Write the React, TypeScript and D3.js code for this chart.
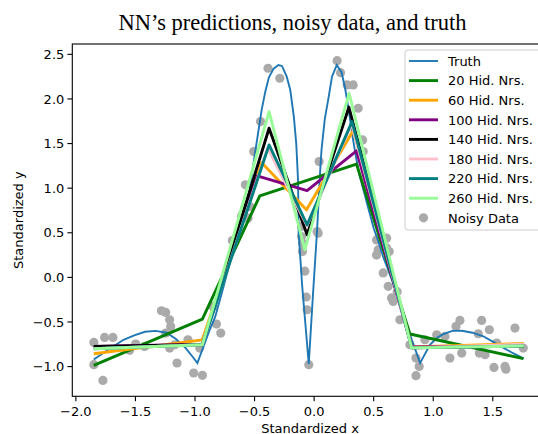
import React from "react";
import * as d3 from "d3";

const width = 538;
const height = 434;

// noisy observations (standardized x, y)
const noisyData: [number, number][] = [
  [-1.849, -0.729], [-1.849, -0.979], [-1.773, -1.155], [-1.759, -0.673], [-1.689, -0.673],
  [-1.549, -0.818], [-1.498, -0.747], [-1.423, -0.774], [-1.282, -0.374], [-1.246, -0.393],
  [-1.213, -0.475], [-1.204, -0.55], [-1.246, -0.624], [-1.213, -0.792], [-1.171, -0.755],
  [-1.151, -0.96], [-1.059, -0.699], [-1.011, -1.072], [-0.938, -1.098], [-0.96, -0.792],
  [-0.82, -0.523], [-0.784, -0.624], [-0.849, -0.326], [-0.686, 0.413],
  [-0.61, 0.682], [-0.582, 0.776], [-0.597, 0.72], [-0.54, 0.794], [-0.555, 0.664],
  [-0.577, 1.037], [-0.507, 1.41], [-0.45, 1.746], [-0.387, 2.344], [-0.288, 2.232],
  [-0.106, 0.57], [-0.106, 0.458], [-0.098, 0.384], [-0.098, 0.29], [-0.078, 0.07],
  [-0.066, -0.22], [-0.059, -0.363], [-0.045, -0.979], [0.025, 0.514], [0.034, 0.496],
  [0.042, 1.298],
  [0.193, 2.429], [0.222, 2.295], [0.277, 2.157], [0.328, 2.157], [0.37, 1.896],
  [0.407, 1.541], [0.412, 1.41],
  [0.608, 0.44], [0.524, 0.42], [0.538, 0.31], [0.608, 0.33], [0.63, 0.29], [0.524, 0.25],
  [0.58, 0.05], [0.622, -0.1], [0.697, -0.16], [0.65, -0.23], [0.664, -0.27], [0.72, -0.475],
  [0.804, -0.755], [0.855, -0.904], [0.882, -0.998], [0.855, -1.102], [0.93, -0.699],
  [1.029, -0.643], [1.098, -0.662], [1.14, -0.904], [1.191, -0.55], [1.224, -0.483],
  [1.239, -0.848], [1.378, -0.632], [1.406, -0.483], [1.387, -0.848], [1.471, -0.587],
  [1.435, -0.867], [1.533, -0.736], [1.51, -1.009], [1.602, -0.998], [1.61, -1.03],
  [1.686, -0.568], [1.756, -0.792],
];

// true function
const truth: [number, number][] = [
  [-1.85, -0.92], [-1.76, -0.84], [-1.68, -0.77], [-1.6, -0.7], [-1.51, -0.65],
  [-1.42, -0.61], [-1.33, -0.6], [-1.24, -0.62], [-1.16, -0.69], [-1.08, -0.79],
  [-1.02, -0.89], [-0.98, -0.96], [-0.93, -0.78], [-0.88, -0.6], [-0.83, -0.44],
  [-0.78, -0.2], [-0.74, 0.0], [-0.7, 0.2], [-0.66, 0.36], [-0.62, 0.54],
  [-0.58, 0.76], [-0.54, 0.98], [-0.5, 1.36], [-0.47, 1.62], [-0.44, 1.88],
  [-0.41, 2.08], [-0.38, 2.24], [-0.34, 2.34], [-0.3, 2.38], [-0.27, 2.37],
  [-0.23, 2.25], [-0.2, 2.1], [-0.17, 1.8], [-0.15, 1.5], [-0.135, 1.09],
  [-0.13, 0.5], [-0.1, -0.1], [-0.045, -0.97], [-0.01, -0.2], [0.025, 0.53],
  [0.048, 1.13], [0.062, 1.43], [0.09, 1.78], [0.118, 1.99], [0.15, 2.25],
  [0.19, 2.38], [0.23, 2.3], [0.26, 2.12], [0.29, 1.88], [0.32, 1.6],
  [0.35, 1.36], [0.38, 1.15], [0.42, 0.95], [0.46, 0.75], [0.5, 0.55],
  [0.54, 0.4], [0.58, 0.23], [0.64, 0.02], [0.7, -0.2], [0.76, -0.45],
  [0.82, -0.7], [0.89, -0.96], [0.93, -0.86], [0.97, -0.76], [1.03, -0.68],
  [1.08, -0.64], [1.16, -0.6], [1.24, -0.598], [1.33, -0.62], [1.42, -0.66],
  [1.5, -0.72], [1.59, -0.79], [1.67, -0.85], [1.76, -0.91],
];

// network predictions (piecewise linear)
const nn20: [number, number][] = [[-1.85, -0.987], [-0.938, -0.467], [-0.456, 0.914], [0.356, 1.27], [0.804, -0.635], [1.756, -0.91]];
const nn60: [number, number][] = [[-1.85, -0.856], [-0.938, -0.7], [-0.442, 1.287], [-0.064, 0.757], [0.33, 1.65], [0.82, -0.78], [1.76, -0.74]];
const nn100: [number, number][] = [[-1.85, -0.774], [-0.938, -0.75], [-0.478, 1.138], [-0.059, 0.973], [0.356, 1.418], [0.82, -0.78], [1.76, -0.77]];
const nn140: [number, number][] = [[-1.85, -0.774], [-0.938, -0.755], [-0.378, 1.672], [-0.059, 0.477], [0.292, 1.907], [0.82, -0.79], [1.76, -0.77]];
const nn180: [number, number][] = [[-1.85, -0.8], [-0.938, -0.755], [-0.39, 1.45], [-0.06, 0.58], [0.315, 1.72], [0.82, -0.79], [1.76, -0.75]];
const nn220: [number, number][] = [[-1.85, -0.8], [-0.938, -0.755], [-0.378, 1.485], [-0.059, 0.589], [0.318, 1.746], [0.82, -0.79], [1.76, -0.77]];
const nn260: [number, number][] = [[-1.85, -0.8], [-0.938, -0.755], [-0.378, 1.858], [-0.078, 0.31], [0.294, 2.064], [0.818, -0.79], [1.76, -0.77]];

const nnSeries = [nn20, nn60, nn100, nn140, nn180, nn220, nn260];
const nnLabels = ["20 Hid. Nrs.", "60 Hid. Nrs.", "100 Hid. Nrs.", "140 Hid. Nrs.", "180 Hid. Nrs.", "220 Hid. Nrs.", "260 Hid. Nrs."];
const nnColors = ["green", "orange", "purple", "black", "pink", "teal", "palegreen"];

const xTicks = [-2.0, -1.5, -1.0, -0.5, 0.0, 0.5, 1.0, 1.5];
const yTicks = [-1.0, -0.5, 0.0, 0.5, 1.0, 1.5, 2.0, 2.5];

const truthColor = "#1f77b4";
const dotColor = "#aaaaaa";
const font = "'DejaVu Sans', sans-serif";

const plotLeft = 72.3;
const plotRight = 547.6;
const plotTop = 44;
const plotBottom = 396.3;

const x = d3.scaleLinear().domain([-2.03, 1.96]).range([plotLeft, plotRight]);
const y = d3.scaleLinear().domain([-1.333, 2.616]).range([plotBottom, plotTop]);

const line = d3
  .line<[number, number]>()
  .x((d) => x(d[0]))
  .y((d) => y(d[1]));

const fmt = (v: number) => d3.format(".1f")(v).replace("-", "\u2212");

export default function App() {
  const legendItems = ["Truth", ...nnLabels, "Noisy Data"];
  const legendColors = [truthColor, ...nnColors];
  return (
    <svg
      width={width}
      height={height}
      style={{ position: "absolute", left: 0, top: 0, background: "white" }}
    >
      <text
        x={292.5}
        y={30}
        textAnchor="middle"
        fontFamily="'Liberation Serif', 'Times New Roman', serif"
        fontSize={22.5}
      >
        NN’s predictions, noisy data, and truth
      </text>

      {/* noisy points */}
      {noisyData.map((d, i) => (
        <circle key={i} cx={x(d[0])} cy={y(d[1])} r={4.6} fill={dotColor} />
      ))}

      {/* truth */}
      <path d={line(truth) ?? ""} fill="none" stroke={truthColor} strokeWidth={1.9} />

      {/* predictions */}
      {nnSeries.map((s, i) => (
        <path
          key={i}
          d={line(s) ?? ""}
          fill="none"
          stroke={nnColors[i]}
          strokeWidth={2.9}
          strokeLinejoin="round"
        />
      ))}

      {/* spines */}
      <rect
        x={plotLeft}
        y={plotTop}
        width={plotRight - plotLeft}
        height={plotBottom - plotTop}
        fill="none"
        stroke="black"
        strokeWidth={1.1}
      />

      {/* x axis */}
      {xTicks.map((t) => (
        <g key={t}>
          <line x1={x(t)} x2={x(t)} y1={plotBottom} y2={plotBottom + 4.9} stroke="black" strokeWidth={1.1} />
          <text x={x(t)} y={plotBottom + 20} textAnchor="middle" fontFamily={font} fontSize={13}>
            {fmt(t)}
          </text>
        </g>
      ))}
      <text x={310} y={432.5} textAnchor="middle" fontFamily={font} fontSize={13}>
        Standardized x
      </text>

      {/* y axis */}
      {yTicks.map((t) => (
        <g key={t}>
          <line x1={plotLeft - 4.9} x2={plotLeft} y1={y(t)} y2={y(t)} stroke="black" strokeWidth={1.1} />
          <text x={plotLeft - 8} y={y(t) + 4.7} textAnchor="end" fontFamily={font} fontSize={13}>
            {fmt(t)}
          </text>
        </g>
      ))}
      <text
        transform={`translate(23,${(plotTop + plotBottom) / 2}) rotate(-90)`}
        textAnchor="middle"
        fontFamily={font}
        fontSize={13}
      >
        Standardized y
      </text>

      {/* legend */}
      <g>
        <rect x={405} y={50} width={140} height={180} rx={3} fill="white" fillOpacity={0.8} stroke="#cccccc" strokeWidth={1} />
        {legendItems.map((label, i) => {
          const cy = 61 + 19.6 * i;
          return (
            <g key={label}>
              {i < legendItems.length - 1 ? (
                <line
                  x1={409}
                  x2={438}
                  y1={cy}
                  y2={cy}
                  stroke={legendColors[i]}
                  strokeWidth={i === 0 ? 1.9 : 2.9}
                />
              ) : (
                <circle cx={423.5} cy={cy} r={4.6} fill={dotColor} />
              )}
              <text x={448} y={cy + 4.7} fontFamily={font} fontSize={13}>
                {label}
              </text>
            </g>
          );
        })}
      </g>
    </svg>
  );
}
